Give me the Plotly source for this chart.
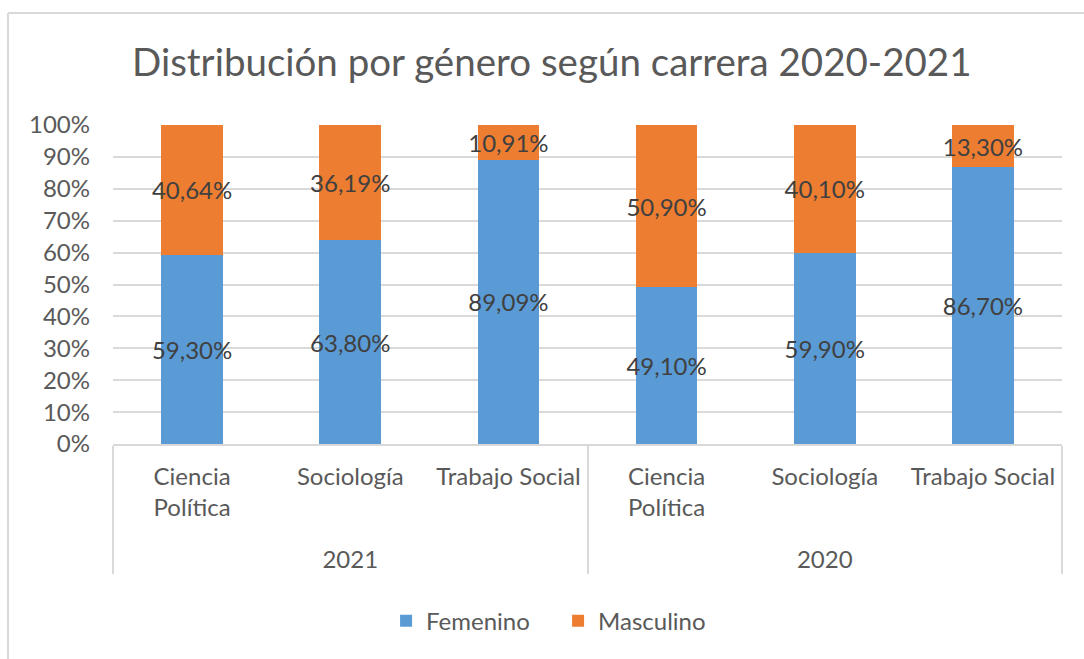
import plotly.graph_objects as go

years = ["<br>2021", "<br>2021", "<br>2021", "<br>2020", "<br>2020", "<br>2020"]
careers = ["Ciencia<br>Política", "Sociología", "Trabajo Social",
           "Ciencia<br>Política", "Sociología", "Trabajo Social"]
femenino = [59.30, 63.80, 89.09, 49.10, 59.90, 86.70]
masculino = [40.64, 36.19, 10.91, 50.90, 40.10, 13.30]

FONT = "Lato"
TXT = "#595959"
LBL = "#404040"
FS = 24

def fmt(v):
    return f"{v:.2f}".replace(".", ",") + "%"

fig = go.Figure()
for name, vals, col in [("Femenino", femenino, "#5B9BD5"), ("Masculino", masculino, "#ED7D31")]:
    fig.add_trace(go.Bar(
        name=name, x=[years, careers], y=vals,
        marker=dict(color=col, line=dict(width=0)),
        text=[fmt(v) for v in vals], textposition="inside", textangle=0,
        insidetextanchor="middle", constraintext="none",
        textfont=dict(family=FONT, size=FS, color=LBL),
        hoverinfo="skip",
    ))

fig.update_layout(
    barmode="stack", barnorm="percent", bargap=0.61,
    width=1084, height=659,
    margin=dict(l=113, r=22, t=125, b=215),
    paper_bgcolor="white", plot_bgcolor="white",
    font=dict(family=FONT, size=FS, color=TXT),
    title=dict(text="Distribución por género según carrera 2020-2021",
               x=0.509, xanchor="center", y=0.905, yanchor="middle",
               font=dict(family=FONT, size=38.5, color=TXT)),
    legend=dict(orientation="h", x=0.469, xanchor="center", y=-0.555, yanchor="middle",
                entrywidth=127, entrywidthmode="pixels",
                font=dict(family=FONT, size=FS, color=TXT), traceorder="normal"),
    showlegend=True,
)
fig.update_yaxes(range=[0, 100], dtick=10, ticksuffix="%", showgrid=True,
                 gridcolor="#D9D9D9", gridwidth=2, zeroline=False, showline=False,
                 ticks="", ticklabelstandoff=22, automargin=False,
                 tickfont=dict(family=FONT, size=FS, color=TXT))
fig.update_xaxes(showline=True, linecolor="#D9D9D9", linewidth=2,
                 showdividers=True, dividercolor="#D9D9D9", dividerwidth=2,
                 ticks="", automargin=False, ticklabelstandoff=10,
                 tickfont=dict(family=FONT, size=FS, color=TXT))

# outer chart border (top and left edges visible)
fig.add_shape(type="line", xref="paper", yref="paper", x0=-0.1106, x1=1.1, y0=1.351, y1=1.351,
              line=dict(color="#D9D9D9", width=2))
fig.add_shape(type="line", xref="paper", yref="paper", x0=-0.1106, x1=-0.1106, y0=1.351, y1=-0.7,
              line=dict(color="#D9D9D9", width=2))

fig.write_html("out.html", config={"displayModeBar": False},
               post_script="document.body.style.margin='0';")
